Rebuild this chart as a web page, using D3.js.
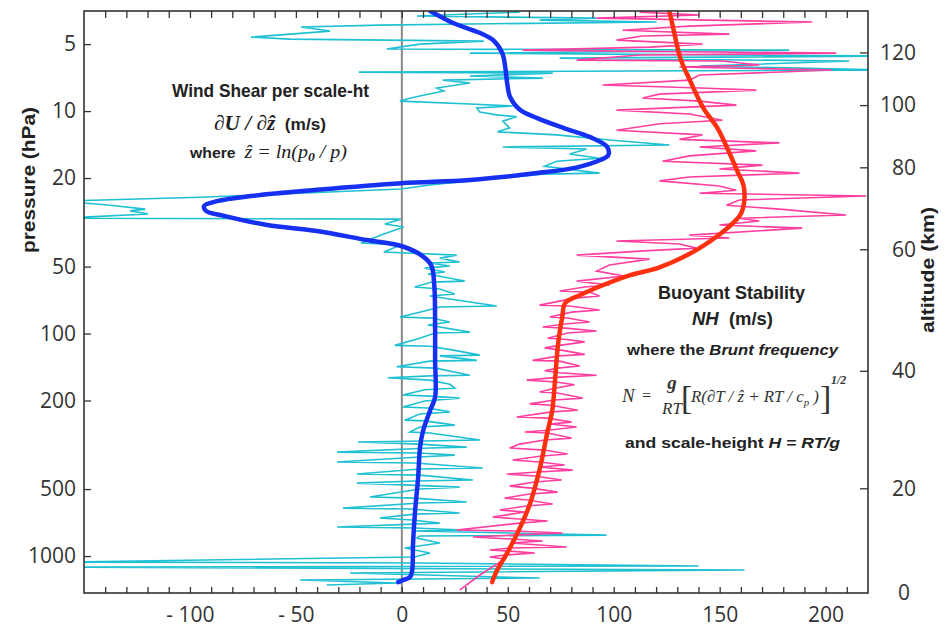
<!DOCTYPE html>
<html>
<head>
<meta charset="utf-8">
<script src="https://cdn.jsdelivr.net/npm/d3@7"></script>
<style>
body { margin: 0; background: #fff; }
.tick text { font-family: "Open Sans", "Liberation Sans", sans-serif; font-size: 21px; fill: #333; }
.lbl { font-family: "Liberation Sans", Arial, sans-serif; font-weight: bold; fill: #222; }
.ser { font-family: "Liberation Serif", "Times New Roman", serif; font-style: italic; }
</style>
</head>
<body>
<script>
// axes
var xTicks = d3.range(-140, 220, 10);
var xLabels = [-100, -50, 0, 50, 100, 150, 200];
var pTicks = [5, 10, 20, 50, 100, 200, 500, 1000];
var altTicks = [0, 20, 40, 60, 80, 100, 120];
var altPressure = [1466, 496, 147, 41.8, 17.9, 9.4, 5.45];

// [value, pressure hPa]
var shearSmooth = [[13.4,3.55],[24.2,4.02],[37.0,4.46],[43.1,4.80],[47.4,5.49],[48.8,6.34],[49.7,7.48],[51.1,8.65],
  [55.9,9.90],[63.9,10.75],[76.2,11.9],[88.9,13.1],[96.9,14.5],[97.4,15.8],[93.6,16.6],[82.8,17.9],[63.9,19.0],
  [32.2,20.4],[-0.3,21.1],[-40.0,22.6],[-71.2,24.1],[-87.2,25.4],[-93.3,26.7],[-92.4,28.1],[-83.9,29.6],[-63.6,32.5],
  [-40.0,34.6],[-16.4,38.0],[-0.3,40.4],[9.1,44.4],[13.8,49.2],[15.3,60.5],[15.7,93.5],[15.7,131.6],[15.7,193],
  [13.4,221],[10.1,272],[8.6,324],[7.7,442],[6.3,621],[5.3,874],[4.9,1156],[3.9,1243],[0.6,1282],[-1.7,1309]];

var stabSmooth = [[126.2,3.55],[128.1,4.24],[131.4,5.78],[136.1,7.33],[142.3,9.69],[148.9,11.9],[153.6,14.7],
  [158.3,18.6],[161.2,21.5],[161.6,25.4],[159.7,29.3],[153.6,33.6],[145.6,38.4],[134.7,44.4],[120.6,50.8],
  [107.8,54.6],[95.1,60.5],[84.2,67.1],[77.1,72.9],[75.7,84.3],[73.8,110],[72.4,157],[71.0,221],[68.6,280],
  [65.3,398],[60.6,578],[55.9,741],[49.7,970],[45.0,1156],[42.6,1309]];

var shearRaw = [[55.6,3.59],[7.1,3.74],[91.9,3.82],[65.0,3.90],[120.2,3.98],[32.1,4.06],[-10.4,4.11],[-47.6,4.19],
  [-33.9,4.37],[-71.2,4.65],[-52.8,4.75],[38.7,4.85],[8.5,5.00],[-7.1,5.26],[182.9,5.32],[32.1,5.49],[230,5.66],
  [74.5,5.78],[211.2,5.96],[140.5,6.28],[230,6.54],[-20.3,6.68],[71.2,6.75],[32.1,6.96],[66.5,7.11],[19.3,7.26],
  [32.1,7.48],[16.5,7.88],[19.8,8.13],[8.5,8.56],[4.2,8.74],[-0.9,9.02],[32.1,9.30],[52.3,9.49],[35.4,9.69],
  [36.8,10.1],[44.8,10.4],[54.2,10.6],[47.6,11.1],[50.9,11.9],[45.2,12.4],[73.1,12.8],[98.0,13.5],[126.3,14.2],
  [47.6,14.5],[87.2,14.8],[79.2,15.6],[93.3,16.3],[73.1,16.8],[67.4,17.7],[93.3,19.0],[66.5,19.2],[32.1,20.6],
  [13.2,21.5],[-0.5,22.4],[-48.1,23.4],[-95.2,24.4],[-160,25.4],[-137.6,26.5],[-121.1,27.6],[-128.2,28.1],
  [-119.7,29.0],[-160,30.3],[-0.5,30.6],[-8.0,32.2],[0.9,33.2],[-8.5,35.7],[-19.3,39.2],[-0.5,40.0],[-8.5,43.0],
  [25.9,44.4],[17.9,45.8],[27.3,47.7],[13.2,48.2],[22.6,49.7],[10.8,50.8],[20.3,52.9],[12.3,54.0],[29.7,58.1],
  [14.1,58.7],[6.1,61.8],[17.9,63.1],[25.0,66.4],[13.2,67.8],[44.8,75.2],[17.9,76.0],[10.8,79.2],[-0.9,84.3],
  [14.1,85.2],[22.6,88.8],[12.3,91.6],[32.1,98.5],[15.6,99.5],[8.5,105],[-3.3,113],[13.2,114],[25.0,119],
  [36.8,125],[17.9,126],[35.4,132],[13.2,133],[-2.4,141],[16.0,143],[32.1,154],[13.2,155],[-6.6,158],[13.2,162],
  [22.6,169],[25.0,176],[10.8,179],[0.5,189],[13.2,191],[27.3,195],[10.8,201],[0.5,214],[12.3,216],[22.6,225],
  [8.5,230],[1.4,245],[10.8,247],[25.0,258],[8.5,263],[3.8,277],[13.2,280],[36.8,301],[10.8,304],[-20.7,307],
  [8.5,314],[30.6,324],[13.2,327],[-30.6,341],[8.5,344],[25.0,352],[8.5,359],[-30.6,378],[6.1,382],[38.2,402],
  [8.5,406],[-21.2,428],[8.5,433],[33.5,455],[6.1,460],[-21.2,470],[3.8,480],[27.3,490],[8.5,500],[-15.1,543],
  [6.1,549],[30.6,572],[8.5,578],[-27.8,609],[3.8,615],[27.3,641],[6.1,648],[-10.4,675],[4.7,689],[17.9,711],
  [-30.6,741],[6.1,748],[28.8,764],[6.1,772],[96.6,805],[8.5,813],[7.1,830],[17.9,874],[1.4,920],[13.2,969],
  [6.1,1010],[-160,1064],[8.5,1075],[140,1109],[-160,1120],[161.7,1156],[-24.5,1192],[65.0,1256],[-48.1,1282],
  [-2.4,1322],[-35.4,1350]];

var stabRaw = [[112.2,3.59],[140.5,3.70],[91.9,3.82],[193.7,3.98],[135.7,4.15],[104.2,4.33],[154.6,4.51],
  [113.6,4.60],[101.3,4.80],[141.9,5.00],[116.9,5.16],[57.0,5.32],[205.0,5.49],[112.2,5.60],[82.5,5.90],
  [151.3,5.96],[168.7,6.21],[131.0,6.34],[203.1,6.54],[140.5,6.89],[135.7,7.26],[94.7,7.64],[140.5,7.88],
  [167.3,8.05],[121.6,8.39],[113.6,8.74],[140.5,9.02],[157.9,9.40],[101.3,9.90],[135.7,10.3],[151.3,11.0],
  [121.6,11.4],[101.3,12.2],[141.9,12.8],[131.0,13.4],[178.2,13.9],[140.5,14.5],[167.3,15.1],[135.7,15.9],
  [123.0,16.8],[170.2,17.5],[149.9,18.2],[187.6,19.0],[135.7,19.8],[121.6,20.6],[149.9,21.7],[157.9,22.7],
  [140.5,23.4],[219.2,24.1],[159.3,25.1],[153.2,26.5],[178.2,27.6],[209.7,29.3],[159.3,30.3],[168.7,31.2],
  [149.9,32.5],[189.0,33.6],[135.7,36.1],[154.6,37.2],[101.3,38.4],[131.0,39.6],[139.0,41.3],[112.2,42.6],
  [82.5,44.4],[116.9,46.3],[98.0,49.2],[91.9,52.4],[105.1,55.1],[82.5,58.1],[98.0,60.5],[86.3,61.8],[74.5,64.4],
  [88.6,65.1],[93.3,67.8],[81.5,69.3],[65.0,74.5],[79.2,75.2],[93.3,78.4],[80.1,80.1],[69.8,84.3],[78.2,85.2],
  [88.6,88.8],[76.8,90.6],[66.5,93.5],[77.3,94.5],[91.9,97.4],[78.2,99.5],[68.8,105],[76.8,106],[86.3,109],
  [74.5,113],[67.4,116],[75.9,119],[86.3,124],[74.5,126],[61.7,132],[74.5,133],[83.9,140],[73.5,143],[67.4,147],
  [74.5,150],[91.9,154],[74.5,157],[58.9,162],[72.6,165],[81.5,170],[72.1,176],[65.0,183],[73.5,185],[85.3,195],
  [72.1,199],[60.3,207],[70.7,210],[83.0,221],[70.7,225],[54.2,237],[68.8,240],[80.1,250],[69.8,255],[82.5,263],
  [68.8,272],[58.0,277],[68.8,280],[80.1,295],[67.4,301],[55.6,314],[50.9,327],[67.4,334],[78.2,348],[66.0,355],
  [52.3,370],[65.0,378],[76.8,390],[65.0,398],[80.6,411],[64.1,419],[49.5,428],[62.7,437],[75.4,455],[62.7,465],
  [50.9,485],[61.3,495],[73.5,516],[60.3,526],[48.5,549],[59.4,560],[71.2,584],[58.9,596],[46.2,621],[58.0,634],
  [42.9,668],[55.6,682],[68.8,696],[55.6,711],[25.9,764],[53.3,772],[75.9,788],[53.3,805],[33.5,821],[51.8,839],
  [66.5,856],[51.8,874],[77.8,911],[50.9,920],[41.5,940],[50.9,950],[62.7,969],[48.5,990],[41.5,1010],
  [48.5,1032],[36.8,1217],[27.3,1422]];

var svg = d3.select("body").append("svg")
    .attr("width", 946)
    .attr("height", 629);

var padL = 84, padR = 868, padT = 11, padB = 593;

var x = d3.scaleLinear().domain([-150, 220]).range([padL, padR]);
var y = d3.scaleLog().domain([3.55, 1466]).range([padT, padB]);
var alt = d3.scaleLinear().domain(altTicks).range(altPressure.map(function(p){ return y(p); }));

svg.append("clipPath").attr("id", "clip")
  .append("rect").attr("x", padL).attr("y", padT).attr("width", padR - padL).attr("height", padB - padT);

var plot = svg.append("g").attr("clip-path", "url(#clip)");

// zero line
plot.append("line")
    .attr("x1", x(0)).attr("x2", x(0)).attr("y1", padT).attr("y2", padB)
    .attr("stroke", "#888").attr("stroke-width", 2);

var line = d3.line()
    .x(function(d){ return x(d[0]); })
    .y(function(d){ return y(d[1]); });

var smooth = d3.line()
    .x(function(d){ return x(d[0]); })
    .y(function(d){ return y(d[1]); })
    .curve(d3.curveCatmullRom);

plot.append("path").datum(shearRaw).attr("d", line)
    .attr("fill", "none").attr("stroke", "#1ec0d2").attr("stroke-width", 1.6);
plot.append("path").datum(stabRaw).attr("d", line)
    .attr("fill", "none").attr("stroke", "#ff3fa0").attr("stroke-width", 1.6);
plot.append("path").datum(shearSmooth).attr("d", smooth)
    .attr("fill", "none").attr("stroke", "#1530f0").attr("stroke-width", 4.5).attr("stroke-linecap", "round");
plot.append("path").datum(stabSmooth).attr("d", smooth)
    .attr("fill", "none").attr("stroke", "#ff3010").attr("stroke-width", 4.5).attr("stroke-linecap", "round");

// axes
function fmtX(d) {
  if (xLabels.indexOf(d) < 0) return "";
  return d < 0 ? "- " + Math.abs(d) : String(d);
}

var gb = svg.append("g").attr("transform", "translate(0," + padB + ")")
    .call(d3.axisBottom(x).tickValues(xTicks).tickSize(-6).tickPadding(14).tickFormat(fmtX));
var gt = svg.append("g").attr("transform", "translate(0," + padT + ")")
    .call(d3.axisTop(x).tickValues(xTicks).tickSize(-7).tickFormat(""));
var gl = svg.append("g").attr("transform", "translate(" + padL + ",0)")
    .call(d3.axisLeft(y).tickValues(pTicks).tickSize(-7).tickPadding(8).tickFormat(d3.format("d")));
var gr = svg.append("g").attr("transform", "translate(" + padR + ",0)")
    .call(d3.axisRight(alt).tickValues(altTicks.slice(1)).tickSize(-8).tickPadding(12).tickFormat(d3.format("d")));
gr.append("text").attr("x", 42).attr("y", padB).attr("dy", "0.35em")
    .attr("text-anchor", "end")
    .style("font-family", '"Open Sans", sans-serif').style("font-size", "21px").attr("fill", "#333").text("0");
gr.selectAll(".tick text").attr("text-anchor", "end").attr("x", 48);

[gb, gt, gl, gr].forEach(function(g){
  g.select(".domain").remove();
  g.selectAll(".tick line").attr("stroke", "#333").attr("stroke-width", 1.3);
});

svg.append("rect").attr("x", padL).attr("y", padT).attr("width", padR - padL).attr("height", padB - padT)
    .attr("fill", "none").attr("stroke", "#333").attr("stroke-width", 1.6);

// axis titles
svg.append("text").attr("class", "lbl")
    .attr("transform", "translate(35,180) rotate(-90)")
    .attr("text-anchor", "middle").style("font-size", "18px")
    .attr("textLength", 146).attr("lengthAdjust", "spacingAndGlyphs")
    .text("pressure (hPa)");
svg.append("text").attr("class", "lbl")
    .attr("transform", "translate(934,270) rotate(-90)")
    .attr("text-anchor", "middle").style("font-size", "18px")
    .attr("textLength", 126).attr("lengthAdjust", "spacingAndGlyphs")
    .text("altitude (km)");

// annotations
function note(xp, yp, len, size) {
  return svg.append("text").attr("class", "lbl").attr("x", xp).attr("y", yp)
      .style("font-size", size + "px")
      .attr("textLength", len).attr("lengthAdjust", "spacingAndGlyphs");
}

note(172, 97, 197, 19).text("Wind Shear per scale-ht");
var t2 = note(214, 130, 112, 17);
t2.append("tspan").attr("class", "ser").style("font-size", "21px").text("\u2202U / \u2202\u1E91");
t2.append("tspan").text("\u00A0\u00A0(m/s)");
var t3 = note(190, 158, 157, 15);
t3.append("tspan").text("where\u00A0\u00A0");
t3.append("tspan").attr("class", "ser").style("font-size", "19px").style("font-weight", "normal").text("\u1E91 = ln(p");
t3.append("tspan").attr("class", "ser").style("font-size", "13px").attr("dy", 3).text("0");
t3.append("tspan").attr("class", "ser").style("font-size", "19px").style("font-weight", "normal").attr("dy", -3).text(" / p)");

note(658, 299, 147, 19).text("Buoyant Stability");
var r2 = note(692, 325, 81, 18);
r2.append("tspan").style("font-style", "italic").text("NH");
r2.append("tspan").text("\u00A0\u00A0(m/s)");
var r3 = note(627, 355, 211, 15);
r3.append("tspan").text("where the ");
r3.append("tspan").style("font-style", "italic").text("Brunt frequency");
var r5 = note(625, 448, 215, 15);
r5.append("tspan").text("and scale-height ");
r5.append("tspan").style("font-style", "italic").text("H = RT/g");

// formula
var fs = svg.append("g").attr("class", "ser").attr("fill", "#333");
fs.append("text").attr("x", 622).attr("y", 402).style("font-size", "19px").text("N");
fs.append("text").attr("x", 642).attr("y", 401).style("font-size", "16px").style("font-style", "normal").text("=");
fs.append("text").attr("x", 672).attr("y", 389).attr("text-anchor", "middle").style("font-size", "19px").style("font-weight", "bold").text("g");
fs.append("text").attr("x", 672).attr("y", 414).attr("text-anchor", "middle").style("font-size", "17px").text("RT");
fs.append("text").attr("x", 681).attr("y", 409).style("font-size", "34px").style("font-style", "normal").style("font-weight", "200").text("[");
var fx = fs.append("text").attr("x", 691).attr("y", 402).style("font-size", "17px")
    .attr("textLength", 128).attr("lengthAdjust", "spacingAndGlyphs");
fx.append("tspan").text("R(\u2202T / \u1E91 + RT / c");
fx.append("tspan").attr("dy", 4).style("font-size", "11px").text("p");
fx.append("tspan").attr("dy", -4).text(" )");
fs.append("text").attr("x", 820).attr("y", 409).style("font-size", "34px").style("font-style", "normal").text("]");
fs.append("text").attr("x", 831).attr("y", 384).style("font-size", "12px").style("font-weight", "bold").text("1/2");
</script>
</body>
</html>
